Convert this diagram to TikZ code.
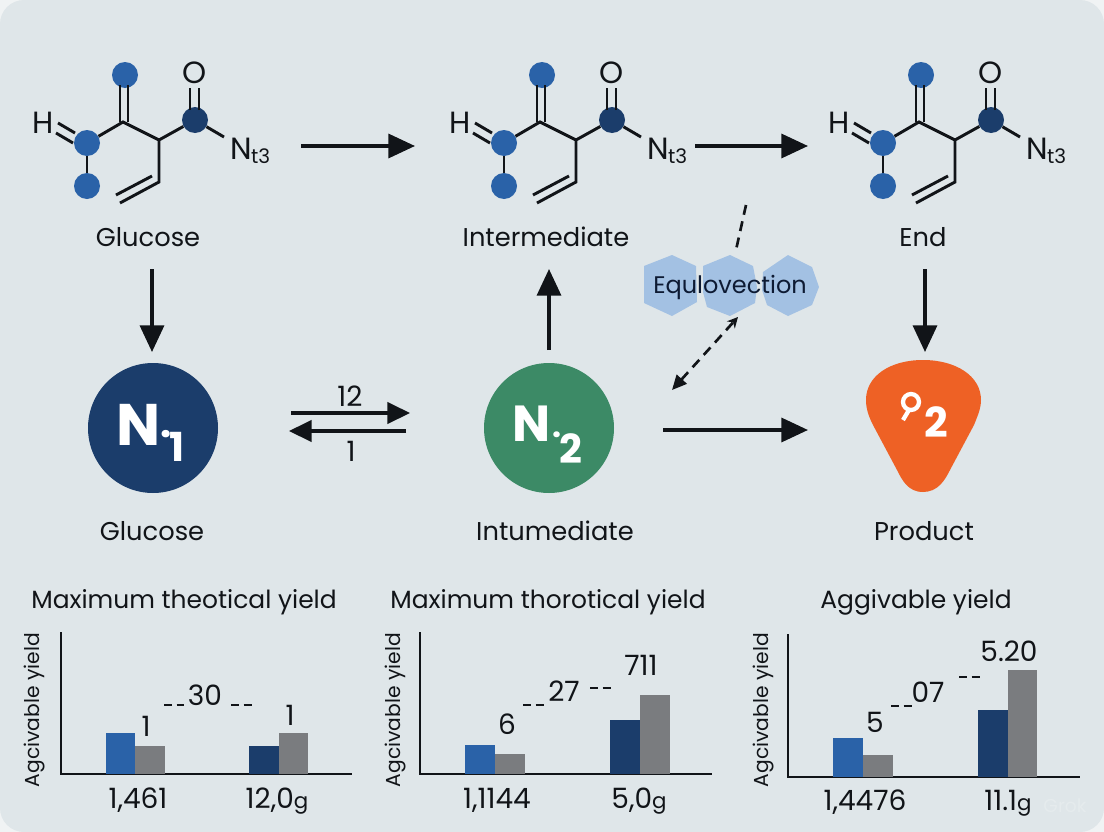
\documentclass[tikz,border=0pt]{standalone}
\usepackage{fontspec}
\setmainfont{Poppins}
\usetikzlibrary{arrows.meta}
\definecolor{bgc}{HTML}{DFE6E9}
\definecolor{cornerc}{HTML}{F0F3F4}
\definecolor{atomblue}{HTML}{2A62A8}
\definecolor{navy}{HTML}{1B3D6B}
\definecolor{barblue}{HTML}{2A62A8}
\definecolor{bargray}{HTML}{7A7C7F}
\definecolor{greenc}{HTML}{3C8A66}
\definecolor{orangec}{HTML}{EE6125}
\definecolor{hexc}{HTML}{A3C1E3}
\definecolor{inkc}{HTML}{111418}
\definecolor{eqink}{HTML}{0D1A33}
\definecolor{markc}{HTML}{E5EBED}
\newcommand{\smallg}{{\fontsize{16}{18}\selectfont g}}
\tikzset{x=0.75pt,y=-0.75pt,
 bond/.style={line width=2.2pt,draw=inkc},
 atom/.style={circle,fill=atomblue,inner sep=0pt,minimum size=19.5pt},
 darkatom/.style={circle,fill=navy,inner sep=0pt,minimum size=19.5pt},
 flow/.style={line width=2.6pt,draw=inkc,-{Triangle[length=20pt,width=18pt]}},
 thin arrow/.style={line width=2.6pt,draw=inkc,-{Triangle[length=17pt,width=16pt]}},
 dashline/.style={line width=2pt,draw=inkc,dash pattern=on 7.5pt off 5pt},
 shortdash/.style={line width=1.5pt,draw=inkc,dash pattern=on 6pt off 3.5pt},
 lab/.style={text=inkc,font=\fontsize{19.3}{24}\selectfont,inner sep=0pt,anchor=base},
 title/.style={text=inkc,font=\fontsize{18.7}{24}\selectfont,inner sep=0pt,anchor=base},
 num/.style={text=inkc,font=\fontsize{21}{24}\selectfont,inner sep=0pt},
 axlab/.style={text=inkc,font=\fontsize{21}{24}\selectfont,inner sep=0pt,anchor=base},
 ylab/.style={text=inkc,font=\fontsize{15.2}{18}\selectfont,inner sep=0pt,rotate=90},
 axis/.style={line width=1.5pt,draw=inkc},
 bigtext/.style={text=white,font=\bfseries\fontsize{44}{48}\selectfont,inner sep=0pt},
 atomlab/.style={text=inkc,font=\fontsize{23}{26}\selectfont,inner sep=0pt},
 hex/.style={fill=hexc,draw=none},
}
\newcommand{\molecule}[3]{%
\begin{scope}[shift={(#1,#2)}]
 \coordinate (#3c) at (39,-20);
 \coordinate (#3d) at (75,-2);
 \coordinate (#3e) at (75,40);
 \coordinate (#3f) at (36,61);
 \node[atom] (#3a1) at (3,1) {};
 \node[atom] (#3a2) at (3,44) {};
 \node[atom] (#3a3) at (41,-67) {};
 \node[darkatom] (#3a4) at (111,-22) {};
 \node[atomlab] (#3H) at (-41,-19) {H};
 \node[atomlab] (#3O) at (111,-69) {O};
 \node[atomlab,anchor=west] (#3N) at (146,9) {N\kern-0.5pt\raisebox{-3pt}{\fontsize{15}{16}\selectfont t3}};
 \draw[bond] (#3a1)--(#3c)--(#3d)--(#3a4) (#3d)--(#3e)--(#3f);
 \draw[bond] (#3a1)--(#3a2);
 \draw[bond] (#3a4)--(140,-5);
 \draw[bond] (32,53)--(68,34);
 \draw[bond] (36,-20)--(36,-57) (44,-20)--(44,-57);
 \draw[bond] (106,-32)--(106,-54) (115,-32)--(115,-54);
 \draw[bond] (-26,-19)--(-9,-9) (-28,-9)--(-11,1);
\end{scope}}
\begin{document}
\begin{tikzpicture}
\useasboundingbox (0,0) rectangle (1104,832);
\fill[cornerc] (0,0) rectangle (1104,832);
\fill[bgc,rounded corners=18pt] (0,0) rectangle (1104,832);
% molecules
\molecule{84}{142}{m}
\molecule{501}{142}{p}
\molecule{880}{142}{q}
% top labels
\node[lab] (l1) at (148,246) {Glucose};
\node[lab] (l2) at (546,246) {Intermediate};
\node[lab] (l3) at (923,246) {End};
% circles
\node[circle,fill=navy,minimum size=97.5pt,inner sep=0pt] (n1) at (153,428) {};
\node[bigtext] (n1a) at (139,425) {N};
\node[bigtext,font=\bfseries\fontsize{30}{32}\selectfont] (n1b) at (166,434) {.};
\node[bigtext,font=\bfseries\fontsize{30}{34}\selectfont] (n1c) at (177,447) {1};
\node[circle,fill=greenc,minimum size=97.5pt,inner sep=0pt] (n2) at (549,428) {};
\node[bigtext,font=\bfseries\fontsize{38}{40}\selectfont] (n2a) at (532,424) {N};
\node[bigtext,font=\bfseries\fontsize{24}{26}\selectfont] (n2b) at (557,435) {.};
\node[bigtext,font=\bfseries\fontsize{30}{34}\selectfont] (n2c) at (571,449) {2};
% product
\path[fill=orangec] (923,492)
 .. controls (908,492) and (902,480) .. (897,470)
 -- (873,425)
 .. controls (868,415) and (866,408) .. (866,400)
 .. controls (866,376) and (890,360) .. (923,360)
 .. controls (956,360) and (981,376) .. (981,400)
 .. controls (981,408) and (978,415) .. (974,425)
 -- (950,470)
 .. controls (945,480) and (938,492) .. (923,492) -- cycle;
\node[inner sep=0pt] (n3) at (924,425) {};
\draw[white,line width=3.2pt] (911,402) circle (8);
\draw[white,line width=3.2pt] (909,410) -- (903,420);
\node[bigtext,font=\bfseries\fontsize{31}{34}\selectfont] (n3b) at (936,422) {2};
% lower labels
\node[lab] (l4) at (152,540) {Glucose};
\node[lab] (l5) at (555,540) {Intumediate};
\node[lab] (l6) at (924,540) {Product};
% flow arrows
\draw[flow] (301,146) -- (415,146);
\draw[flow] (695,146) -- (808,146);
\draw[flow] (152,269) -- (152,352);
\draw[flow] (549,350) -- (549,269);
\draw[flow] (925,269) -- (925,352);
\draw[flow] (663,430) -- (808,430);
\draw[thin arrow] (291,413) -- (410,413);
\draw[thin arrow] (406,431) -- (289,431);
\node[num] (k1) at (350,396) {12};
\node[num] (k2) at (351,451) {1};
% hexagons
\fill[hex] (644,266) -- (672,255) -- (696,266) -- (697,302) -- (672,316) -- (644,303) -- cycle;
\fill[hex] (703,266) -- (730,255) -- (753,266) -- (757,287) -- (755,303) -- (730,316) -- (707,307) -- (703,292) -- cycle;
\fill[hex] (763,272) -- (788,255) -- (812,267) -- (819,287) -- (812,305) -- (788,316) -- (767,305) -- (762,290) -- cycle;
\node[text=eqink,font=\fontsize{18}{22}\selectfont,inner sep=0pt] (eq) at (730,287) {Equlovection};
\coordinate (d1) at (746,205);
\coordinate (d2) at (736,250);
\coordinate (d3) at (738,317);
\coordinate (d4) at (672,390);
\draw[dashline] (d1) -- (d2);
\draw[dashline,{Triangle[length=11pt,width=10pt]}-{Stealth[length=8pt,width=8pt]}] (d4) -- (d3);
% charts
\node[title] (t1) at (184,608) {Maximum theotical yield};
\node[title] (t2) at (548,608) {Maximum thorotical yield};
\node[title] (t3) at (916,608) {Aggivable yield};
% chart 1
\node[ylab] (y1) at (35,710) {Agcivable yield};
\draw[axis] (61,632) -- (61,774) -- (352,774);
\fill[barblue] (106,733) rectangle (135,774);
\fill[bargray] (135,746) rectangle (165,774);
\fill[navy] (249,746) rectangle (279,774);
\fill[bargray] (279,733) rectangle (308,774);
\node[num] (a1) at (146,726) {1};
\node[num] (a2) at (205,695) {30};
\node[num] (a3) at (290,715) {1};
\draw[shortdash] (164,705) -- (184,705);
\draw[shortdash] (231,705) -- (252,705);
\node[axlab] (a4) at (138,808) {1,461};
\node[axlab] (a5) at (277,808) {12,0\smallg};
% chart 2
\node[ylab] (y2) at (396,710) {Agcivable yield};
\draw[axis] (420,632) -- (420,774) -- (712,774);
\fill[barblue] (465,745) rectangle (495,774);
\fill[bargray] (495,754) rectangle (525,774);
\fill[navy] (610,720) rectangle (640,774);
\fill[bargray] (640,695) rectangle (670,774);
\node[num] (b1) at (507,724) {6};
\node[num] (b2) at (564,691) {27};
\node[num] (b3) at (641,665) {711};
\draw[shortdash] (523,705) -- (545,705);
\draw[shortdash] (590,688) -- (611,688);
\node[axlab] (b4) at (497,808) {1,1144};
\node[axlab] (b5) at (639,808) {5,0\smallg};
% chart 3
\node[ylab] (y3) at (764,710) {Agcivable yield};
\draw[axis] (788,634) -- (788,777) -- (1080,777);
\fill[barblue] (833,738) rectangle (863,777);
\fill[bargray] (863,755) rectangle (893,777);
\fill[navy] (978,710) rectangle (1008,777);
\fill[bargray] (1008,670) rectangle (1037,777);
\node[num] (c1) at (875,722) {5};
\node[num] (c2) at (928,692) {07};
\node[num] (c3) at (1009,651) {5.20};
\draw[shortdash] (891,706) -- (912,706);
\draw[shortdash] (959,677) -- (980,677);
\node[axlab] (c4) at (865,810) {1,4476};
\node[axlab] (c5) at (1008,810) {11.1\smallg};
\node[text=markc,font=\fontsize{14}{16}\selectfont,inner sep=0pt] (wm) at (1065,806) {Grok};
\end{tikzpicture}
\end{document}
